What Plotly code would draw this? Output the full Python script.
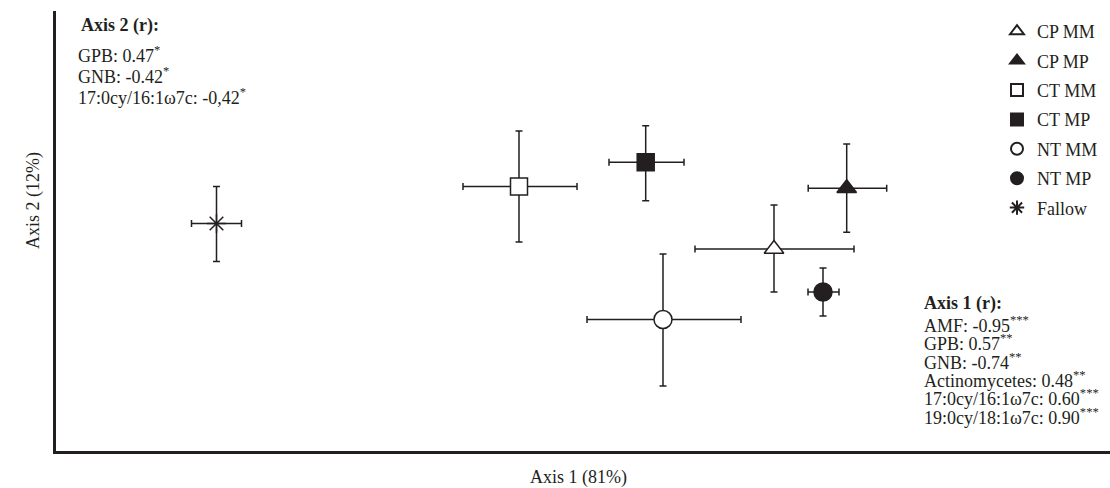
import plotly.graph_objects as go

# ---- data (axis scores, arbitrary units) ----
treatments = ["CP MM", "CP MP", "CT MM", "CT MP", "NT MM", "NT MP", "Fallow"]
axis1 = [7.18, 7.907, 4.63, 5.897, 6.07, 7.67, 1.605]
axis2 = [2.02, 2.627, 2.645, 2.887, 1.315, 1.59, 2.275]
err1_plus = [0.80, 0.40, 0.58, 0.383, 0.78, 0.16, 0.25]
err1_minus = [0.79, 0.385, 0.56, 0.367, 0.76, 0.15, 0.25]
err2_plus = [0.44, 0.443, 0.555, 0.366, 0.655, 0.24, 0.37]
err2_minus = [0.43, 0.44, 0.555, 0.384, 0.665, 0.24, 0.38]

axis2_title = "<b>Axis 2 (r):</b>"
axis2_lines = ["GPB: 0.47<sup>*</sup>", "GNB: -0.42<sup>*</sup>",
               "17:0cy/16:1\u03c97c: -0,42<sup>*</sup>"]
axis1_title = "<b>Axis 1 (r):</b>"
axis1_lines = ["AMF: -0.95<sup>***</sup>", "GPB: 0.57<sup>**</sup>",
               "GNB: -0.74<sup>**</sup>", "Actinomycetes: 0.48<sup>**</sup>",
               "17:0cy/16:1\u03c97c: 0.60<sup>***</sup>",
               "19:0cy/18:1\u03c97c: 0.90<sup>***</sup>"]
x_title = "Axis 1 (81%)"
y_title = "Axis 2 (12%)"

# ---- styles ----
INK = "#231f20"
FONT = "Liberation Serif"
FS = 18
symbols = ["triangle-up", "triangle-up", "square", "square", "circle", "circle", "asterisk-open"]
fills = ["white", INK, "white", INK, "white", INK, INK]
sizes = [17, 17, 17, 17, 18, 18, 16]

W, H = 1110, 488
L, R, T, B = 56, 1110, 11, 451


def pxx(px):
    return (px - L) / (R - L)


def pxy(py):
    return (B - py) / (B - T)


fig = go.Figure()
for i, name in enumerate(treatments):
    fig.add_trace(go.Scatter(
        x=[axis1[i]], y=[axis2[i]], mode="markers", name=name,
        legendgroup=name,
        marker=dict(symbol=symbols[i], size=sizes[i], color=fills[i],
                    line=dict(color=INK, width=1.5)),
        error_x=dict(type="data", symmetric=False, array=[err1_plus[i]],
                     arrayminus=[err1_minus[i]], color=INK, thickness=1.5, width=3.5),
        error_y=dict(type="data", symmetric=False, array=[err2_plus[i]],
                     arrayminus=[err2_minus[i]], color=INK, thickness=1.5, width=3.5),
    ))

annotations = []
annotations.append(dict(text=axis2_title, x=pxx(79), y=pxy(26), xanchor="left",
                        yanchor="middle", font=dict(size=FS)))
for k, line in enumerate(axis2_lines):
    annotations.append(dict(text=line, x=pxx(76), y=pxy(54.5 + k * 20.8), xanchor="left",
                            yanchor="middle", font=dict(size=FS)))
annotations.append(dict(text=axis1_title, x=pxx(922), y=pxy(303.5), xanchor="left",
                        yanchor="middle", font=dict(size=FS)))
for k, line in enumerate(axis1_lines):
    annotations.append(dict(text=line, x=pxx(922), y=pxy(324.5 + k * 18.3), xanchor="left",
                            yanchor="middle", font=dict(size=FS)))
annotations.append(dict(text=x_title, x=pxx(578), y=pxy(478), xanchor="center",
                        yanchor="middle", font=dict(size=FS)))
annotations.append(dict(text=y_title, x=pxx(34), y=pxy(201), xanchor="center",
                        yanchor="middle", textangle=-90, font=dict(size=FS)))
for a in annotations:
    a.update(xref="paper", yref="paper", showarrow=False)

fig.update_layout(
    width=W, height=H,
    margin=dict(l=L, r=W - R, t=T, b=H - B, pad=0),
    paper_bgcolor="white", plot_bgcolor="white",
    font=dict(family=FONT, size=FS, color=INK),
    xaxis=dict(range=[0, 10.54], showgrid=False, zeroline=False, showticklabels=False,
               ticks="", showline=True, linecolor=INK, linewidth=2.5, fixedrange=True),
    yaxis=dict(range=[0, 4.40], showgrid=False, zeroline=False, showticklabels=False,
               ticks="", showline=True, linecolor=INK, linewidth=2.5, fixedrange=True),
    showlegend=True,
    legend=dict(x=pxx(997), y=pxy(13), xanchor="left", yanchor="top",
                bgcolor="rgba(0,0,0,0)", font=dict(size=FS, family=FONT, color=INK),
                tracegroupgap=3, itemsizing="constant", borderwidth=0),
    annotations=annotations,
)

fig.write_html("out.html", config={"displayModeBar": False},
               post_script="document.body.style.margin='0';document.body.style.overflow='hidden';")
